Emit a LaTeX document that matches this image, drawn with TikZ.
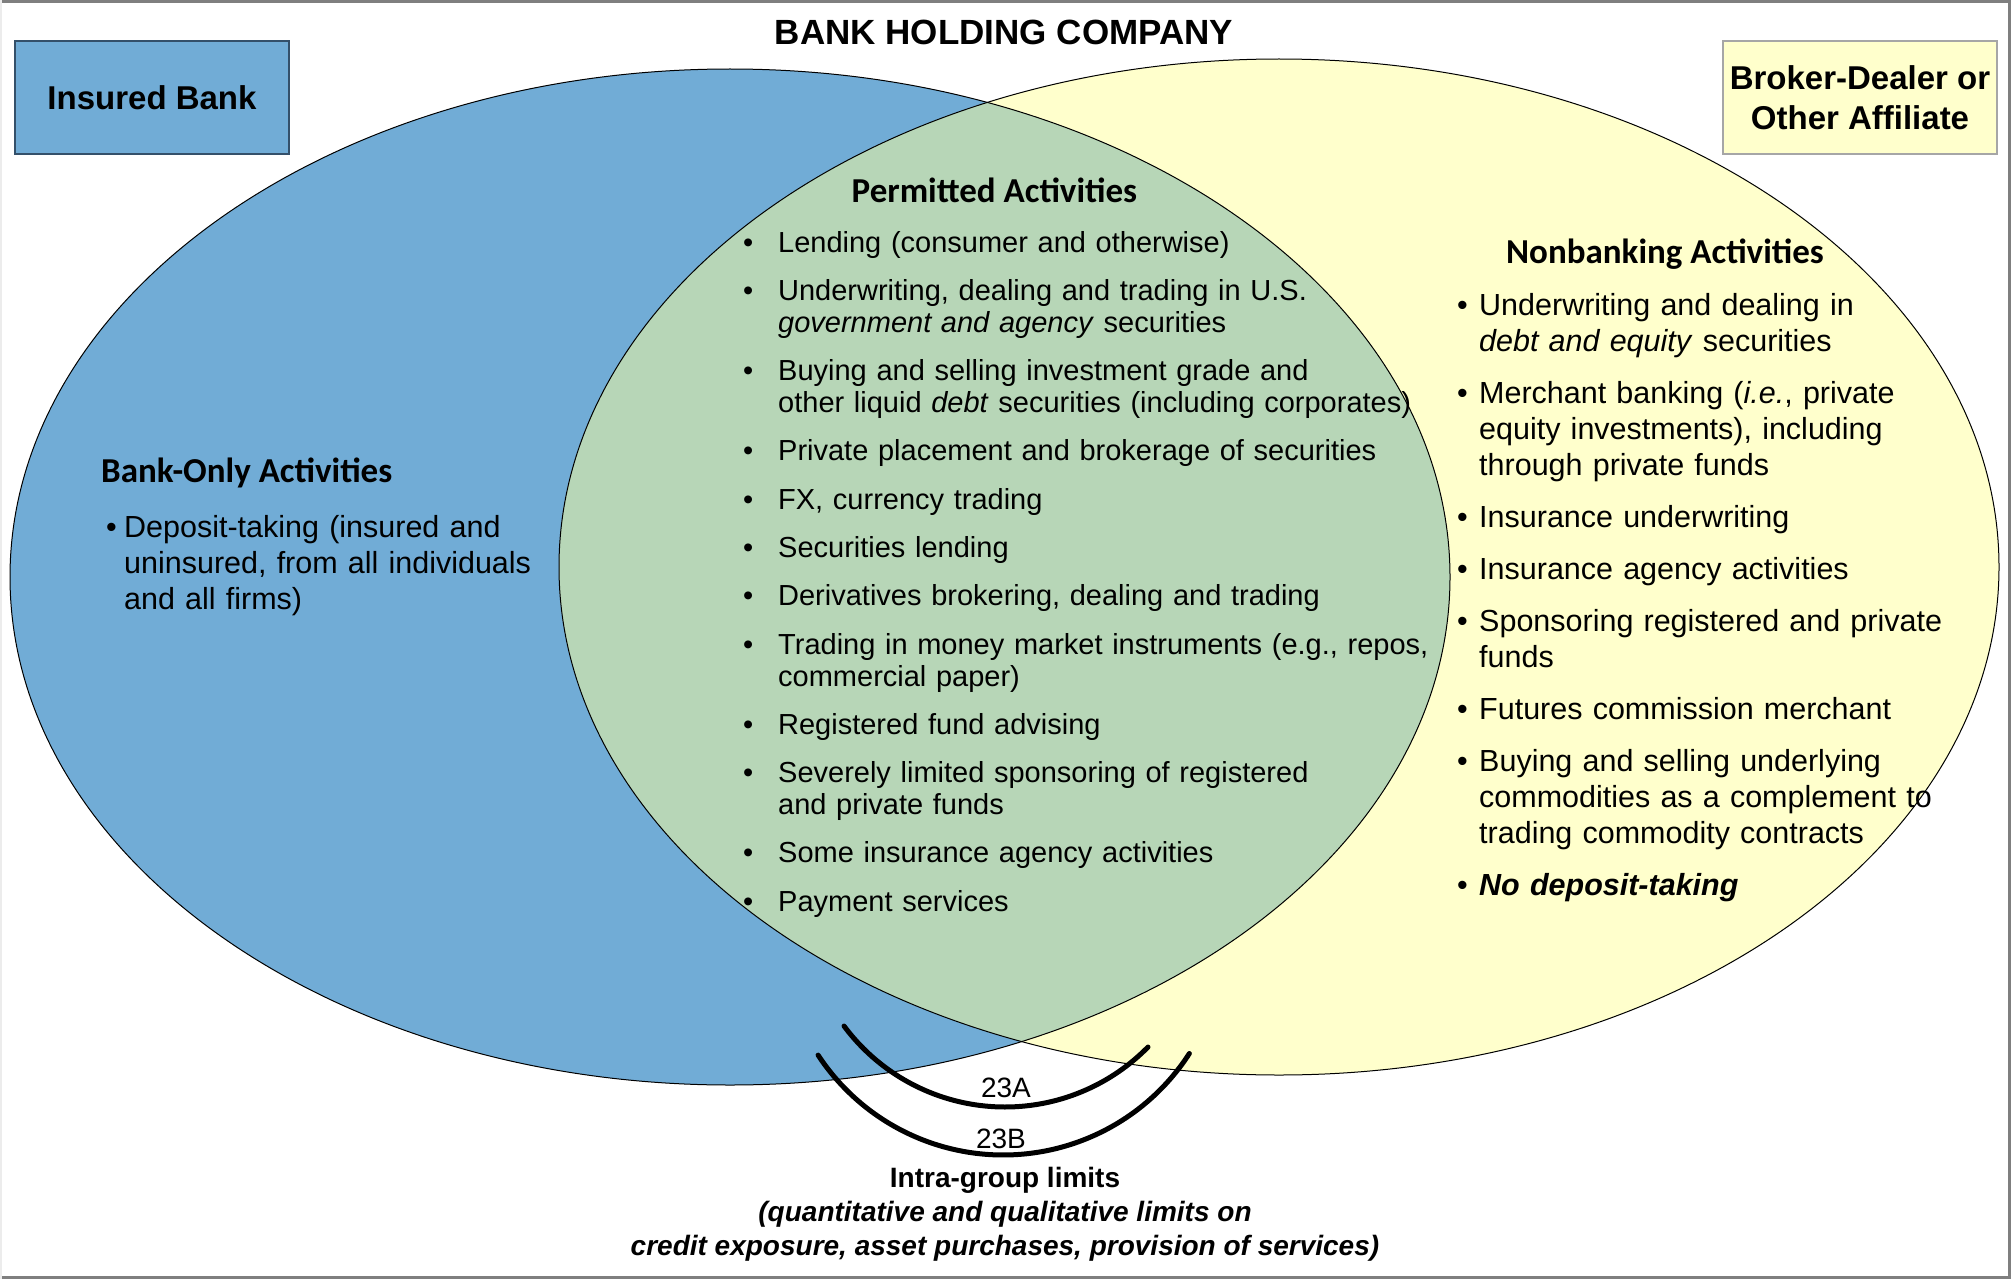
\documentclass[tikz,border=0pt]{standalone}
\usepackage{fontspec}
\setmainfont{Liberation Sans}
\newfontfamily\headfont{Carlito}
\usepackage{tikz}
\definecolor{bankblue}{HTML}{71ACD6}
\definecolor{affyellow}{HTML}{FFFFCC}
\definecolor{sharedgreen}{HTML}{B7D6B7}
\definecolor{rim}{HTML}{7F7F7F}
\definecolor{bankedge}{HTML}{34506A}
\definecolor{affedge}{HTML}{A6A6A6}
\newlength\bulw
\newcommand\actitem[1]{\hangindent=\bulw\hangafter=1 \makebox[\bulw][l]{\textbullet}#1\par}
\tikzset{
  zone/.style={draw=black, line width=1pt},
  tag/.style={line width=1.2pt, minimum width=274pt, minimum height=113pt,
    align=center, font=\fontsize{33}{40}\selectfont\bfseries},
  heading/.style={inner sep=0pt, font=\headfont\fontsize{35}{40}\selectfont\bfseries},
  actlist/.style={inner sep=0pt, anchor=base west, text width=#1},
  limitarc/.style={line width=5pt, line cap=round},
  limitlbl/.style={inner sep=0pt, anchor=base, font=\fontsize{28}{34}\selectfont},
}

\begin{document}
\begin{tikzpicture}[x=1pt, y=-1pt]
  \useasboundingbox (0,0) rectangle (2011,1279);
  \draw[rim, line width=3pt] (0,1.5) -- (2009.5,1.5) -- (2009.5,1277.5) -- (0,1277.5);
  \draw[rim!15, line width=2pt] (1,0) -- (1,1279);

  % the two entities and what they share
  \fill[bankblue] (730,577) ellipse [x radius=720, y radius=508];
  \fill[affyellow] (1279,567) ellipse [x radius=720, y radius=508];
  \begin{scope}
    \clip (730,577) ellipse [x radius=720, y radius=508];
    \fill[sharedgreen] (1279,567) ellipse [x radius=720, y radius=508];
  \end{scope}
  \draw[zone] (730,577) ellipse [x radius=720, y radius=508];
  \draw[zone] (1279,567) ellipse [x radius=720, y radius=508];

  \node[inner sep=0pt, anchor=base, font=\fontsize{35}{40}\selectfont\bfseries]
    (bhc) at (1004,45) {BANK HOLDING COMPANY};
  \node[tag, draw=bankedge, fill=bankblue] (bankbox) at (152,97.5) {Insured Bank};
  \node[tag, draw=affedge, fill=affyellow] (brokerbox) at (1860,97.5)
    {Broker-Dealer or\\Other Affiliate};

  \node[heading, anchor=base west] (bankhead) at (101,482) {Bank-Only Activities};
  \node[actlist=500pt, font=\fontsize{30.5}{36}\selectfont] (bankacts) at (106,537)
    {\setlength\bulw{18pt}%
     \actitem{Deposit-taking (insured and\newline uninsured, from all individuals\newline and all firms)}};

  \node[heading, anchor=base] (permhead) at (994.5,202) {Permitted Activities};
  \node[actlist=700pt, font=\fontsize{29}{32}\selectfont] (permacts) at (743,252)
    {\setlength\bulw{35pt}\setlength\parskip{16.3pt}%
     \actitem{Lending (consumer and otherwise)}
     \actitem{Underwriting, dealing and trading in U.S.\newline \emph{government and agency} securities}
     \actitem{Buying and selling investment grade and\newline other liquid \emph{debt} securities (including corporates)}
     \actitem{Private placement and brokerage of securities}
     \actitem{FX, currency trading}
     \actitem{Securities lending}
     \actitem{Derivatives brokering, dealing and trading}
     \actitem{Trading in money market instruments (e.g., repos,\newline commercial paper)}
     \actitem{Registered fund advising}
     \actitem{Severely limited sponsoring of registered\newline and private funds}
     \actitem{Some insurance agency activities}
     \actitem{Payment services}};

  \node[heading, anchor=base] (nonbankhead) at (1665,263) {Nonbanking Activities};
  \node[actlist=560pt, font=\fontsize{30.5}{36}\selectfont] (nonbankacts) at (1457,315)
    {\setlength\bulw{22pt}\setlength\parskip{16pt}%
     \actitem{Underwriting and dealing in\newline \emph{debt and equity} securities}
     \actitem{Merchant banking (\emph{i.e.}, private\newline equity investments), including\newline through private funds}
     \actitem{Insurance underwriting}
     \actitem{Insurance agency activities}
     \actitem{Sponsoring registered and private\newline funds}
     \actitem{Futures commission merchant}
     \actitem{Buying and selling underlying\newline commodities as a complement to\newline trading commodity contracts}
     \actitem{\textbf{\emph{No deposit-taking}}}};

  % sections 23A and 23B
  \draw[limitarc] (1005,906.5) ++(143.4:200.5) arc[start angle=143.4, end angle=44.5, radius=200.5];
  \draw[limitarc] (1003.2,933.5) ++(146.7:221.5) arc[start angle=146.7, end angle=32.8, radius=221.5];
  \node[limitlbl] (lbl23a) at (1006,1097) {23A};
  \node[limitlbl] (lbl23b) at (1001,1148) {23B};
  \node[limitlbl, align=center] (limits) at (1005,1255)
    {\textbf{Intra-group limits}\\
     \textbf{\emph{(quantitative and qualitative limits on}}\\
     \textbf{\emph{credit exposure, asset purchases, provision of services)}}};
\end{tikzpicture}
\end{document}
